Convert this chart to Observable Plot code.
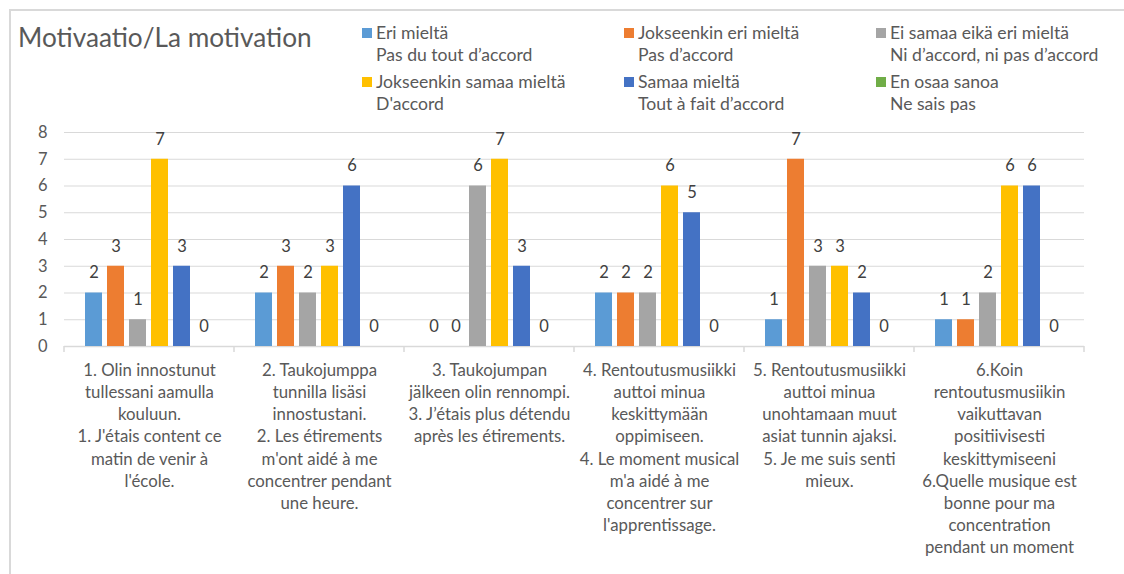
<!DOCTYPE html>
<html>
<head>
<meta charset="utf-8">
<script src="https://cdn.jsdelivr.net/npm/d3@7"></script>
<script src="https://cdn.jsdelivr.net/npm/@observablehq/plot@0.6"></script>
<style>
  html, body { margin: 0; padding: 0; background: #fff; }
  body { width: 1124px; height: 574px; position: relative; overflow: hidden; font-family: Lato, "Open Sans", sans-serif; color: #595959; }
  #frame { position: absolute; left: 9px; top: 9px; width: 1300px; height: 700px; border-top: 2px solid #d9d9d9; border-left: 2px solid #d9d9d9; }
  #title { position: absolute; left: 18px; top: 22px; font-size: 26.2px; line-height: 30px; color: #595959; white-space: nowrap; }
  #legend { position: absolute; left: 362px; top: 22px; display: grid; grid-template-columns: 262px 252px auto; row-gap: 5px; }
  .item { display: flex; align-items: flex-start; font-size: 17.6px; line-height: 22px; }
  .sw { width: 10px; height: 10px; margin-top: 6px; margin-right: 4px; flex: none; }
  .lab { white-space: nowrap; }
  #chart { position: absolute; left: 0; top: 110px; }
</style>
</head>
<body>
<div id="frame"></div>
<div id="title">Motivaatio/La motivation</div>
<div id="legend"></div>
<div id="chart"></div>
<script>
// Survey statements (category tick labels, line breaks as displayed)
const statements = [
  "1. Olin innostunut\ntullessani aamulla\nkouluun.\n1. J'étais content ce\nmatin de venir à\nl'école.",
  "2. Taukojumppa\ntunnilla lisäsi\ninnostustani.\n2. Les étirements\nm'ont aidé à me\nconcentrer pendant\nune heure.",
  "3. Taukojumpan\njälkeen olin rennompi.\n3. J’étais plus détendu\naprès les étirements.",
  "4. Rentoutusmusiikki\nauttoi minua\nkeskittymään\noppimiseen.\n4. Le moment musical\nm'a aidé à me\nconcentrer sur\nl'apprentissage.",
  "5. Rentoutusmusiikki\nauttoi minua\nunohtamaan muut\nasiat tunnin ajaksi.\n5. Je me suis senti\nmieux.",
  "6.Koin\nrentoutusmusiikin\nvaikuttavan\npositiivisesti\nkeskittymiseeni\n6.Quelle musique est\nbonne pour ma\nconcentration\npendant un moment"
];

// Answer options (Finnish / French)
const answersFi = ["Eri mieltä", "Jokseenkin eri mieltä", "Ei samaa eikä eri mieltä", "Jokseenkin samaa mieltä", "Samaa mieltä", "En osaa sanoa"];
const answersFr = ["Pas du tout d’accord", "Pas d’accord", "Ni d’accord, ni pas d’accord", "D'accord", "Tout à fait d’accord", "Ne sais pas"];
const answerColors = ["#5b9bd5", "#ed7d31", "#a5a5a5", "#ffc000", "#4472c4", "#70ad47"];

// Number of answers per statement, one array per answer option
const eriMielta       = [2, 2, 0, 2, 1, 1];
const jokseenkinEri   = [3, 3, 0, 2, 7, 1];
const eiSamaaEikaEri  = [1, 2, 6, 2, 3, 2];
const jokseenkinSamaa = [7, 3, 7, 6, 3, 6];
const samaaMielta     = [3, 6, 3, 5, 2, 6];
const enOsaaSanoa     = [0, 0, 0, 0, 0, 0];

const seriesValues = [eriMielta, jokseenkinEri, eiSamaaEikaEri, jokseenkinSamaa, samaaMielta, enOsaaSanoa];

// Long table for Plot
const rows = [];
statements.forEach((s, i) => {
  answersFi.forEach((a, j) => rows.push({statement: s, answer: a, count: seriesValues[j][i]}));
});

// Legend
const legend = document.getElementById("legend");
answersFi.forEach((a, j) => {
  const item = document.createElement("div");
  item.className = "item";
  item.innerHTML = `<span class="sw" style="background:${answerColors[j]}"></span><span class="lab">${a}<br>${answersFr[j]}</span>`;
  legend.appendChild(item);
});

const chart = Plot.plot({
  width: 1124,
  height: 464,
  marginTop: 22,
  marginBottom: 228,
  marginLeft: 62,
  marginRight: 38,
  style: {fontFamily: "Lato, 'Open Sans', sans-serif", background: "transparent"},
  fx: {domain: statements, padding: 0, label: null},
  x: {domain: answersFi, paddingInner: 0.22, paddingOuter: 0.87, axis: null},
  y: {domain: [0, 8], label: null},
  color: {domain: answersFi, range: answerColors},
  marks: [
    Plot.gridY({ticks: 8, stroke: "#d9d9d9", strokeOpacity: 1, strokeWidth: 1}),
    Plot.ruleY([0], {stroke: "#d9d9d9", strokeWidth: 1.5}),
    Plot.barY(rows, {fx: "statement", x: "answer", y: "count", fill: "answer"}),
    Plot.text(rows, {fx: "statement", x: "answer", y: "count", text: d => String(d.count), dy: -20, fontSize: 16.5, fill: "#404040"}),
    Plot.axisY({ticks: 8, tickSize: 0, tickPadding: 17, fontSize: 16.5, color: "#595959", label: null}),
    Plot.axisFx({anchor: "bottom", tickSize: 0, tickPadding: 14, fontSize: 16.8, lineHeight: 1.315, color: "#595959", label: null})
  ]
});
document.getElementById("chart").appendChild(chart);

// Group separators below the baseline, placed with the plot's own scales
const fx = chart.scale("fx");
const y0 = chart.scale("y").apply(0);
const edges = statements.map(s => fx.apply(s));
edges.push(fx.apply(statements[statements.length - 1]) + fx.bandwidth);
d3.select(chart).append("g")
  .selectAll("line").data(edges).join("line")
  .attr("x1", d => d).attr("x2", d => d)
  .attr("y1", y0).attr("y2", y0 + 6)
  .attr("stroke", "#d9d9d9").attr("stroke-width", 1.5);
</script>
</body>
</html>
